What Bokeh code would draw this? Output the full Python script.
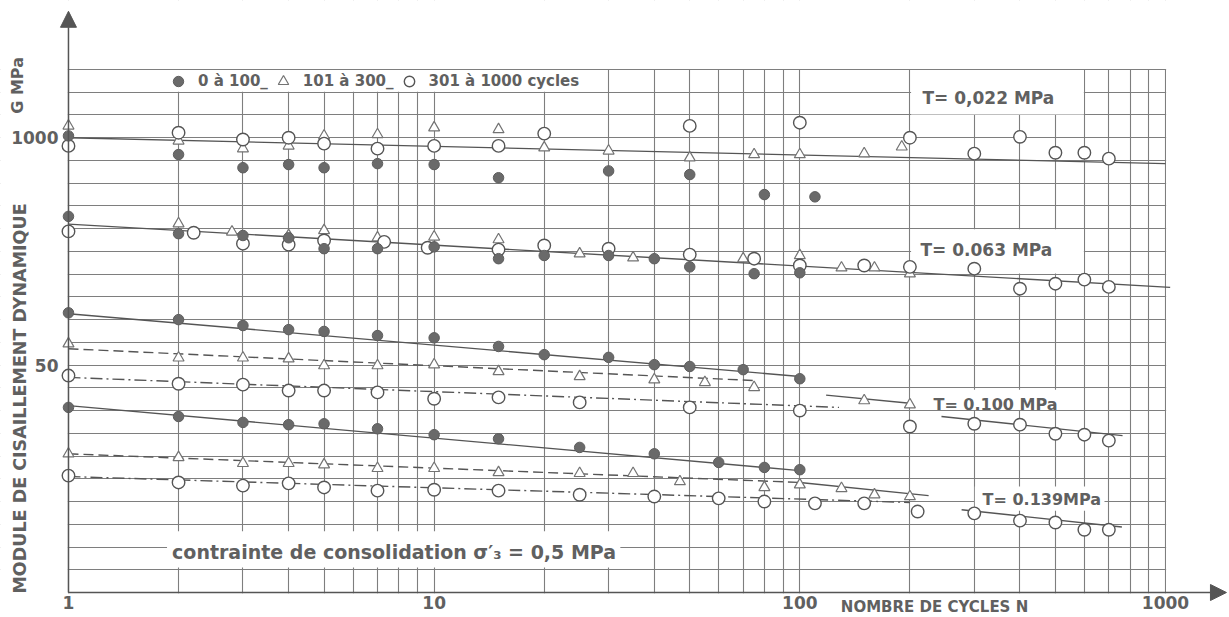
from bokeh.plotting import figure
from bokeh.models import FixedTicker, Label, Arrow, NormalHead, Legend, LegendItem
from bokeh.embed import file_html
from bokeh.resources import INLINE

# ---------------- data ----------------
# N = number of cycles, G = dynamic shear modulus (MPa)
# T = 0.022 MPa
t022_fill_n = [1, 2, 3, 4, 5, 7, 10, 15, 30, 50, 80, 110]
t022_fill_g = [100.4, 96.3, 93.4, 94.1, 93.4, 94.3, 94.1, 91.2, 92.7, 91.9, 87.5, 87.0]
t022_tri_n = [1, 2, 3, 4, 5, 7, 10, 15, 20, 30, 50, 75, 100, 150, 190]
t022_tri_g = [102.6, 99.3, 97.6, 98.2, 100.4, 100.7, 102.2, 101.8, 97.8, 97.1, 95.6, 96.3, 96.3, 96.5, 98.0]
t022_open_n = [1, 2, 3, 4, 5, 7, 10, 15, 20, 50, 100, 200, 300, 400, 500, 600, 700]
t022_open_g = [98.2, 101.1, 99.6, 100.0, 98.7, 97.6, 98.2, 98.2, 100.9, 102.6, 103.3, 100.0, 96.5, 100.2, 96.7, 96.7, 95.4]
t022_fit_n = [1, 1000]
t022_fit_g = [100.0, 94.3]

# T = 0.063 MPa
t063_fill_n = [1, 2, 3, 4, 5, 7, 10, 15, 20, 30, 40, 50, 75, 100]
t063_fill_g = [82.7, 78.9, 78.5, 78.0, 75.6, 75.6, 76.0, 73.4, 74.1, 74.1, 73.4, 71.6, 70.1, 70.3]
t063_tri_n = [2, 2.8, 4, 5, 7, 10, 15, 25, 35, 70, 100, 130, 160, 200]
t063_tri_g = [81.1, 79.3, 78.5, 79.6, 78.0, 78.2, 77.6, 74.5, 73.6, 73.4, 74.1, 71.4, 71.4, 70.1]
t063_open_n = [1, 2.2, 3, 4, 5, 7.3, 9.6, 15, 20, 30, 50, 75, 100, 150, 200, 300, 400, 500, 600, 700]
t063_open_g = [79.4, 79.1, 76.7, 76.5, 77.4, 77.1, 75.8, 75.4, 76.3, 75.6, 74.3, 73.4, 71.9, 71.9, 71.6, 71.2, 66.8, 67.9, 68.8, 67.2]
t063_fit_n = [1, 1030]
t063_fit_g = [81.0, 67.1]

# T = 0.100 MPa
t100_fill_n = [1, 2, 3, 4, 5, 7, 10, 15, 20, 30, 40, 50, 70, 100]
t100_fill_g = [61.5, 60.0, 58.7, 57.8, 57.4, 56.5, 56.0, 54.1, 52.3, 51.7, 50.1, 49.7, 49.0, 47.0]
t100_tri_n = [1, 2, 3, 4, 5, 7, 10, 15, 25, 40, 55, 75, 150, 200]
t100_tri_g = [54.7, 51.6, 51.6, 51.4, 49.9, 49.9, 50.1, 48.6, 47.5, 46.8, 46.2, 45.1, 42.2, 41.3]
t100_open_n = [1, 2, 3, 4, 5, 7, 10, 15, 25, 50, 100, 200, 300, 400, 500, 600, 700]
t100_open_g = [47.7, 45.9, 45.7, 44.4, 44.4, 44.0, 42.6, 42.9, 41.8, 40.7, 40.0, 36.5, 37.1, 36.9, 34.9, 34.7, 33.4]
t100_fit_fill_n = [1, 100]
t100_fit_fill_g = [61.3, 47.5]
t100_fit_tri_n = [1, 75]
t100_fit_tri_g = [53.6, 46.6]
t100_fit_tri2_n = [118, 200]
t100_fit_tri2_g = [43.4, 41.6]
t100_fit_open_n = [1, 128]
t100_fit_open_g = [47.3, 40.7]
t100_fit_open2_n = [244, 763]
t100_fit_open2_g = [38.7, 34.5]

# T = 0.139 MPa
t139_fill_n = [1, 2, 3, 4, 5, 7, 10, 15, 25, 40, 60, 80, 100]
t139_fill_g = [40.7, 38.7, 37.4, 36.9, 37.1, 36.0, 34.7, 33.8, 31.9, 30.5, 28.6, 27.5, 27.0]
t139_tri_n = [1, 2, 3, 4, 5, 7, 10, 15, 25, 35, 47, 80, 100, 130, 160, 200]
t139_tri_g = [30.5, 29.7, 28.4, 28.4, 28.1, 27.3, 27.3, 26.4, 26.2, 26.2, 24.4, 23.1, 23.7, 22.9, 21.5, 21.1]
t139_open_n = [1, 2, 3, 4, 5, 7, 10, 15, 25, 40, 60, 80, 110, 150, 210, 300, 400, 500, 600, 700]
t139_open_g = [25.7, 24.2, 23.5, 24.0, 23.1, 22.4, 22.6, 22.4, 21.5, 21.1, 20.7, 20.0, 19.6, 19.6, 17.8, 17.4, 15.8, 15.4, 13.8, 13.8]
t139_fit_fill_n = [1, 100]
t139_fit_fill_g = [41.1, 26.8]
t139_fit_tri_n = [1, 100]
t139_fit_tri_g = [30.5, 24.2]
t139_fit_tri2_n = [100, 225]
t139_fit_tri2_g = [24.2, 21.3]
t139_fit_open_n = [1, 200]
t139_fit_open_g = [25.5, 19.8]
t139_fit_open2_n = [277, 760]
t139_fit_open2_g = [18.2, 14.4]

# ticks
x_ticks = [1, 10, 100, 1000]
x_tick_labels = ["1", "10", "100", "1000"]
y_ticks = [50, 100]
y_tick_labels = ["50", "1000"]
x_grid = [k * 10 ** e for e in range(3) for k in range(1, 10)] + [1000]
y_grid = list(range(5, 120, 5))

legend_labels = ["0 à 100_", "101 à 300_", "301 à 1000 cycles"]

# ---------------- styling ----------------
GRID = "#7e7e7e"
INK = "#555555"
TXT = "#606060"
FONT = "DejaVu Sans"

# the frame fills the whole canvas; axes are pinned at N = 1 and G = 0
p = figure(width=1228, height=616, x_axis_type="log",
           x_range=(0.6518, 1487), y_range=(-5.277, 130.17),
           output_backend="svg", toolbar_location=None,
           min_border_left=0, min_border_right=0, min_border_top=0, min_border_bottom=0)
p.outline_line_color = None
p.background_fill_color = "white"
p.border_fill_color = "white"

p.xgrid.ticker = FixedTicker(ticks=x_grid)
p.ygrid.ticker = FixedTicker(ticks=y_grid)
p.grid.grid_line_color = GRID
p.grid.grid_line_width = 1.1

p.xaxis.ticker = FixedTicker(ticks=x_ticks)
p.xaxis.major_label_overrides = dict(zip(x_ticks, x_tick_labels))
p.yaxis.ticker = FixedTicker(ticks=y_ticks)
p.yaxis.major_label_overrides = dict(zip(y_ticks, y_tick_labels))
p.xaxis.fixed_location = 0
p.yaxis.fixed_location = 1
for ax in (p.xaxis, p.yaxis):
    ax.axis_line_color = None
    ax.major_tick_line_color = None
    ax.minor_tick_line_color = None
    ax.major_tick_out = 0
    ax.major_tick_in = 0
    ax.minor_tick_out = 0
    ax.minor_tick_in = 0
    ax.major_label_text_font = FONT
    ax.major_label_text_font_style = "bold"
    ax.major_label_text_font_size = "17px"
    ax.major_label_text_color = TXT
p.xaxis.major_label_standoff = 3
p.yaxis.major_label_standoff = 10

# white masks: outside the chart paper and behind the labels
mask_left = [0.5, 0.5, 0.1, 1004, 1.01, 201.5, 201.5, 220, 301, 1.86]
mask_right = [3000, 3000, 0.996, 3000, 29.5, 598, 598, 530, 681, 32.3]
mask_bottom = [115.12, -10, -10, -10, 110.12, 105.12, 70.12, 40.12, 18.0, 5.5]
mask_top = [200, -0.14, 200, 200, 114.88, 114.88, 79.88, 44.6, 23.3, 13.45]
p.quad(left=mask_left, right=mask_right, bottom=mask_bottom, top=mask_top,
       fill_color="white", line_color=None)

# fitted lines
SOLID, DASH, DASHDOT = "solid", "10 5", "12 4 2 4"
fits = [
    (t022_fit_n, t022_fit_g, SOLID), (t063_fit_n, t063_fit_g, SOLID),
    (t100_fit_fill_n, t100_fit_fill_g, SOLID), (t100_fit_tri_n, t100_fit_tri_g, DASH),
    (t100_fit_tri2_n, t100_fit_tri2_g, SOLID), (t100_fit_open_n, t100_fit_open_g, DASHDOT),
    (t100_fit_open2_n, t100_fit_open2_g, SOLID),
    (t139_fit_fill_n, t139_fit_fill_g, SOLID), (t139_fit_tri_n, t139_fit_tri_g, DASH),
    (t139_fit_tri2_n, t139_fit_tri2_g, SOLID), (t139_fit_open_n, t139_fit_open_g, DASHDOT),
    (t139_fit_open2_n, t139_fit_open2_g, SOLID),
]
for n, g, dash in fits:
    p.line(n, g, line_color=INK, line_width=1.4, line_dash=dash)


def markers(fn, fg, tn, tg, on, og):
    rt = p.scatter(tn, tg, marker="triangle", size=11, fill_color="white",
                   line_color="#737373", line_width=1.2)
    ro = p.scatter(on, og, marker="circle", size=12.5, fill_color="white",
                   line_color=INK, line_width=1.4)
    rf = p.scatter(fn, fg, marker="circle", size=10.5, fill_color="#6a6a6a",
                   line_color="#5e5e5e", line_width=1)
    return rf, rt, ro


rf, rt, ro = markers(t022_fill_n, t022_fill_g, t022_tri_n, t022_tri_g, t022_open_n, t022_open_g)
markers(t063_fill_n, t063_fill_g, t063_tri_n, t063_tri_g, t063_open_n, t063_open_g)
markers(t100_fill_n, t100_fill_g, t100_tri_n, t100_tri_g, t100_open_n, t100_open_g)
markers(t139_fill_n, t139_fill_g, t139_tri_n, t139_tri_g, t139_open_n, t139_open_g)

legend = Legend(items=[LegendItem(label=legend_labels[0], renderers=[rf]),
                       LegendItem(label=legend_labels[1], renderers=[rt]),
                       LegendItem(label=legend_labels[2], renderers=[ro])],
                orientation="horizontal", location=(165, 522),
                glyph_width=26, glyph_height=26, label_standoff=7, spacing=2,
                padding=0, margin=0, border_line_color=None, background_fill_alpha=0,
                label_text_font=FONT, label_text_font_style="bold",
                label_text_font_size="15px", label_text_color=TXT)
p.add_layout(legend)


def add_text(x, y, text, size, angle=0.0, align="left", style="bold"):
    p.add_layout(Label(x=x, y=y, text=text, text_font=FONT, text_font_style=style,
                       text_font_size=size, text_color=TXT, text_align=align,
                       text_baseline="middle", angle=angle))


add_text(216.5, 108.8, "T= 0,022 MPa", "17px")
add_text(213.8, 75.2, "T= 0.063 MPa", "17px")
add_text(232, 41.3, "T= 0.100 MPa", "16px")
add_text(316, 20.4, "T= 0.139MPa", "16px")
add_text(1.92, 9.0, "contrainte de consolidation σ′₃ = 0,5 MPa", "19px")
add_text(0.739, 42.66, "MODULE DE CISAILLEMENT DYNAMIQUE", "17.5px", angle=1.5708, align="center")
add_text(0.725, 111.5, "G MPa", "16px", angle=1.5708, align="center")
add_text(129.5, -3.1, "NOMBRE DE CYCLES N", "15px")

# axes drawn as arrows
p.add_layout(Arrow(end=NormalHead(size=16, fill_color=INK, line_color=INK),
                   x_start=1, y_start=0, x_end=1468, y_end=0, line_color=INK, line_width=1.5))
p.add_layout(Arrow(end=NormalHead(size=16, fill_color=INK, line_color=INK),
                   x_start=1, y_start=0, x_end=1, y_end=127.8, line_color=INK, line_width=1.5))

open("out.html", "w").write(file_html(p, INLINE))
